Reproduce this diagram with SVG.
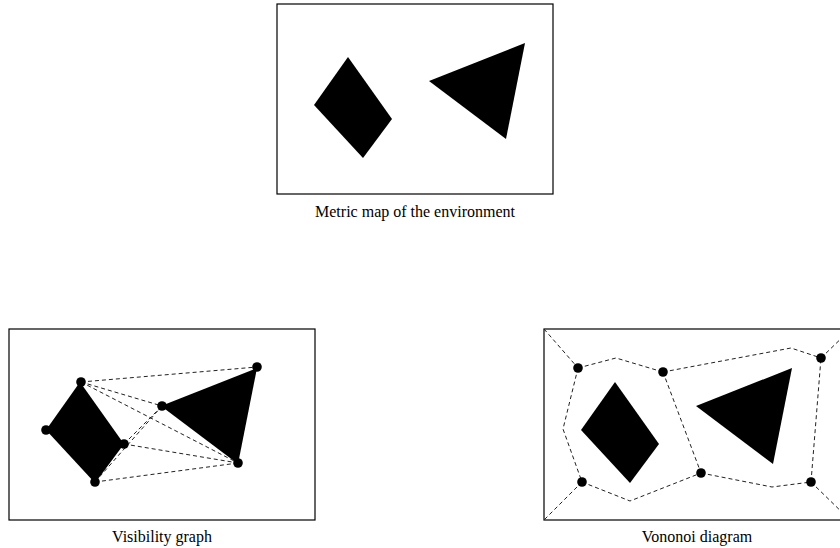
<svg xmlns="http://www.w3.org/2000/svg" width="840" height="548" viewBox="0 0 840 548">
<style>
.frame{fill:#fff;stroke:#000;stroke-width:1.2}
.obs{fill:#000;stroke:none}
.edge{fill:none;stroke:#222;stroke-width:1;stroke-dasharray:4 3}
.dot{fill:#000}
.cap{font-family:"Liberation Serif","Times New Roman",serif;font-size:16px;fill:#000;text-anchor:middle}
</style>
<rect width="840" height="548" fill="#fff"/>
<defs>
<polygon id="diamond" points="71,53 37,101 86,154 115,115"/>
<polygon id="tri" points="152,77 248,39 229,135"/>
</defs>

<g id="metric-map">
<rect class="frame" x="277" y="4" width="276" height="190"/>
<use href="#diamond" class="obs" x="277" y="4"/>
<use href="#tri" class="obs" x="277" y="4"/>
<text class="cap" x="415" y="217">Metric map of the environment</text>
</g>

<g id="visibility-graph">
<rect class="frame" x="9" y="329" width="306" height="191"/>
<use href="#diamond" class="obs" x="9" y="329"/>
<use href="#tri" class="obs" x="9" y="329"/>
<g class="edges">
<line class="edge" x1="81" y1="382" x2="257" y2="367"/>
<line class="edge" x1="81" y1="382" x2="162" y2="406"/>
<line class="edge" x1="81" y1="382" x2="238" y2="463"/>
<line class="edge" x1="124" y1="444" x2="162" y2="406"/>
<line class="edge" x1="95" y1="482" x2="162" y2="406"/>
<line class="edge" x1="124" y1="444" x2="238" y2="463"/>
<line class="edge" x1="95" y1="482" x2="238" y2="463"/>
</g>
<g id="vis-nodes">
<circle class="dot" cx="81" cy="382" r="4.8"/>
<circle class="dot" cx="46" cy="430" r="4.8"/>
<circle class="dot" cx="124" cy="444" r="4.8"/>
<circle class="dot" cx="95" cy="482" r="4.8"/>
<circle class="dot" cx="162" cy="406" r="4.8"/>
<circle class="dot" cx="257" cy="367" r="4.8"/>
<circle class="dot" cx="238" cy="463" r="4.8"/>
</g>
<text class="cap" x="162" y="542">Visibility graph</text>
</g>

<g id="voronoi-diagram">
<rect class="frame" x="544" y="329" width="306" height="191"/>
<use href="#diamond" class="obs" x="544" y="329"/>
<use href="#tri" class="obs" x="544" y="329"/>
<g class="edges">
<polyline class="edge" points="544,329 578,368"/>
<polyline class="edge" points="578,368 616,358 663,372"/>
<polyline class="edge" points="663,372 791,348 821,358"/>
<polyline class="edge" points="821,358 850,330"/>
<polyline class="edge" points="578,368 563,429 582,482"/>
<polyline class="edge" points="582,482 544,520"/>
<polyline class="edge" points="582,482 630,501 701,473"/>
<polyline class="edge" points="663,372 701,473"/>
<polyline class="edge" points="701,473 772,487 811,482"/>
<polyline class="edge" points="811,482 821,358"/>
<polyline class="edge" points="811,482 850,520"/>
</g>
<g id="vor-nodes">
<circle class="dot" cx="578" cy="368" r="4.8"/>
<circle class="dot" cx="663" cy="372" r="4.8"/>
<circle class="dot" cx="821" cy="358" r="4.8"/>
<circle class="dot" cx="582" cy="482" r="4.8"/>
<circle class="dot" cx="701" cy="473" r="4.8"/>
<circle class="dot" cx="811" cy="482" r="4.8"/>
</g>
<text class="cap" x="697" y="542">Vononoi diagram</text>
</g>
</svg>
